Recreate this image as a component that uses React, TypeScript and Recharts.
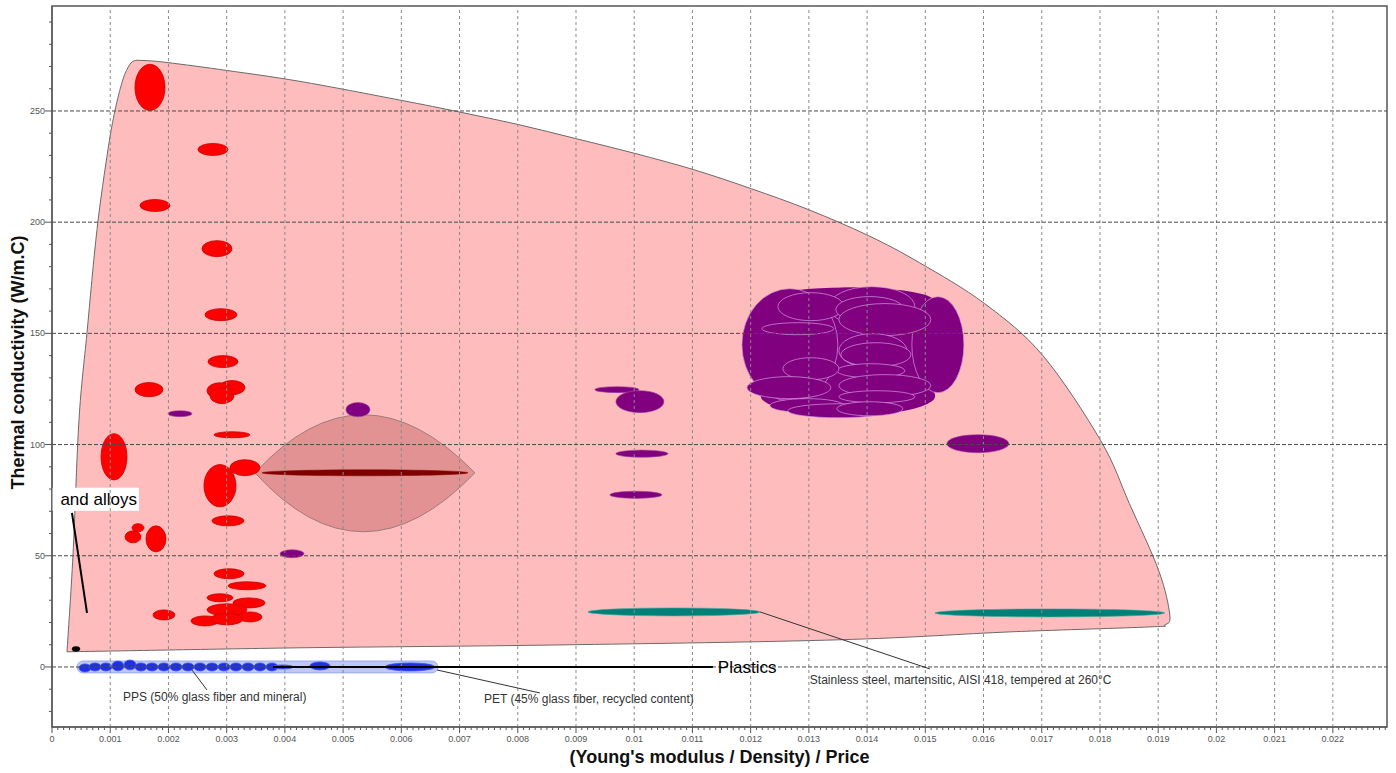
import React from 'react';
import { ScatterChart, XAxis, YAxis, ReferenceArea, ReferenceLine, ReferenceDot } from 'recharts';

// Axis extents and major ticks
const X_DOMAIN: [number, number] = [0, 0.02293];
const Y_DOMAIN: [number, number] = [-27, 297.2];
const xMajorTicks = [0, 0.001, 0.002, 0.003, 0.004, 0.005, 0.006, 0.007, 0.008, 0.009, 0.01, 0.011, 0.012, 0.013, 0.014, 0.015, 0.016, 0.017, 0.018, 0.019, 0.02, 0.021, 0.022];
const yMajorTicks = [0, 50, 100, 150, 200, 250];

// minor ticks: every 0.0001 on x, every 10 on y
const xMinorTicks = Array.from({ length: 230 }, (_, i) => +(i * 0.0001).toFixed(4));
const yMinorTicks = Array.from({ length: 32 }, (_, i) => -20 + i * 10);

// Metals and alloys envelope, [modulus/density/price, conductivity]
const metalsEnvelope: [number, number][] = [
  [0.000258, 6.8], [0.000361, 50.4], [0.000464, 111.2], [0.000601, 150.3],
  [0.000773, 196.7], [0.000962, 232.7], [0.001082, 250.2], [0.001202, 262.8],
  [0.001288, 268.7], [0.001391, 272.3], [0.001563, 272.7], [0.001975, 271.8],
  [0.003005, 268.2], [0.004259, 263.3], [0.005976, 254.9], [0.007006, 249.5],
  [0.008008, 243.9], [0.009011, 237.5], [0.010012, 230.9], [0.011013, 223.7],
  [0.012016, 215.0], [0.012988, 205.7], [0.014019, 194.0], [0.014906, 181.7],
  [0.016018, 163.4], [0.017019, 140.0], [0.018015, 101.7], [0.018506, 73.4],
  [0.019011, 43.2], [0.0192, 23.4], [0.019114, 18.9], [0.018856, 18.0],
  [0.016486, 15.8], [0.013515, 12.2], [0.008724, 9.9], [0.004259, 8.6],
];

// Bubbles: [x centre, y centre, x half-range, y half-range]
type Bubble = [number, number, number, number];

const aluminiumBubbles: Bubble[] = [
  [0.001683, 260.6, 0.000258, 10.4],
  [0.002765, 232.7, 0.000258, 2.7],
  [0.001769, 207.5, 0.000258, 2.7],
  [0.002834, 188.1, 0.000258, 3.6],
  [0.002902, 158.4, 0.000275, 2.7],
  [0.002937, 137.3, 0.000258, 2.7],
  [0.001666, 124.7, 0.00024, 3.2],
  [0.003091, 125.6, 0.000223, 3.2],
  [0.002885, 124.2, 0.000223, 3.6],
  [0.00292, 122.0, 0.000206, 3.6],
  [0.001065, 94.5, 0.000223, 10.4],
  [0.003091, 104.4, 0.000309, 1.35],
  [0.003314, 89.6, 0.000258, 3.6],
  [0.002885, 81.5, 0.000275, 9.5],
  [0.003023, 65.7, 0.000275, 2.25],
  [0.001391, 58.5, 0.000137, 2.7],
  [0.001477, 62.6, 0.000103, 1.8],
  [0.001786, 57.6, 0.000172, 5.85],
  [0.00304, 41.9, 0.000258, 2.25],
  [0.003349, 36.5, 0.000326, 1.8],
  [0.002885, 31.1, 0.000223, 1.8],
  [0.003383, 28.8, 0.000275, 2.25],
  [0.003005, 25.7, 0.000343, 2.7],
  [0.0034, 22.5, 0.000206, 2.25],
  [0.002627, 20.7, 0.00024, 2.25],
  [0.003005, 21.6, 0.000275, 2.7],
  [0.001923, 23.4, 0.000189, 2.25],
];

const copperBubbles: Bubble[] = [
  [0.005255, 115.7, 0.000206, 3.2],
  [0.002198, 113.9, 0.000206, 1.35],
  [0.004122, 50.9, 0.000206, 1.8],
  [0.009703, 124.7, 0.000378, 1.35],
  [0.010098, 119.3, 0.000412, 4.95],
  [0.010132, 95.9, 0.000447, 1.6],
  [0.010029, 77.4, 0.000447, 1.6],
  [0.015903, 100.4, 0.000532, 4.05],
];

// solid body of the copper group, drawn without outlines
const copperClusterBody: Bubble[] = [
  [0.013756, 147.2, 0.001803, 23.4],
  [0.013670, 165.0, 0.001460, 5.6],
  [0.013670, 122.0, 0.001500, 9.0],
];

const copperCluster: Bubble[] = [
  [0.012674, 144.9, 0.000824, 25.2],
  [0.015216, 144.9, 0.000447, 21.6],
  [0.014082, 162.0, 0.000738, 9.0],
  [0.013035, 162.0, 0.000567, 6.3],
  [0.012811, 152.1, 0.000618, 2.7],
  [0.014048, 160.7, 0.000584, 5.85],
  [0.014305, 156.2, 0.00079, 7.2],
  [0.014099, 142.2, 0.000584, 7.65],
  [0.014151, 140.4, 0.000601, 5.4],
  [0.014065, 133.2, 0.000584, 3.15],
  [0.014305, 126.5, 0.00079, 4.95],
  [0.013035, 134.1, 0.000481, 4.95],
  [0.012657, 125.6, 0.000721, 4.95],
  [0.014168, 121.5, 0.000653, 2.7],
  [0.012966, 117.5, 0.000635, 3.15],
  [0.013515, 115.2, 0.000876, 3.15],
  [0.014048, 116.1, 0.000567, 3.15],
];

const steelBubbles: Bubble[] = [
  [0.010682, 24.75, 0.001477, 1.8],
  [0.017139, 24.3, 0.001975, 1.8],
];

const magnesiumBubbles: Bubble[] = [[0.005375, 87.3, 0.001769, 1.35]];
const leadBubbles: Bubble[] = [[0.000412, 8.1, 0.0000687, 1.1]];

// Magnesium family envelope: left tip, right tip, peak x, top, bottom
const magnesiumLens = { x1: 0.003486, x2: 0.007264, peakX: 0.00532, tipY: 87.3, top: 113.4, bottom: 60.8 };

// Plastics envelope and bubbles
const plasticsEnvelope = { x1: 0.000429, x2: 0.006629, y1: -2.7, y2: 2.7 };
const plasticBubbles: Bubble[] = [
  [0.000567, -0.45, 0.000103, 1.8],
  [0.000738, 0, 0.000103, 1.8],
  [0.000927, 0, 0.000103, 1.8],
  [0.001133, 0.45, 0.000103, 2.2],
  [0.00134, 0.9, 0.000103, 2.2],
  [0.001528, 0, 0.000103, 1.8],
  [0.001717, 0, 0.000103, 1.8],
  [0.001923, 0, 0.000103, 1.8],
  [0.00213, 0, 0.000103, 1.8],
  [0.002336, 0, 0.000103, 1.8],
  [0.002542, 0, 0.000103, 1.8],
  [0.002748, 0, 0.000103, 1.8],
  [0.002954, 0, 0.000103, 1.8],
  [0.00316, 0, 0.000103, 1.8],
  [0.003366, 0, 0.000103, 1.8],
  [0.003572, 0, 0.000103, 1.8],
  [0.003778, 0, 0.000103, 1.8],
  [0.003967, 0, 0.000172, 0.9],
  [0.004602, 0.45, 0.000172, 1.8],
  [0.006148, 0, 0.000429, 1.8],
];

// Annotations: leader segments and label anchors
type Seg = [[number, number], [number, number]];
const heavyLeaders: Seg[] = [
  [[0.000343, 69.3], [0.000601, 24.3]],
  [[0.003795, 0], [0.011352, 0]],
];
const thinLeaders: Seg[] = [
  [[0.002404, -1.35], [0.002662, -10.35]],
  [[0.006612, -1.35], [0.00838, -11.7]],
  [[0.012159, 24.75], [0.015078, -0.9]],
];
const smallLabels: { x: number; y: number; text: string }[] = [
  { x: 0.001219, y: -13.5, text: 'PPS (50% glass fiber and mineral)' },
  { x: 0.007419, y: -14.4, text: 'PET (45% glass fiber, recycled content)' },
  { x: 0.013017, y: -5.85, text: 'Stainless steel, martensitic, AISI 418, tempered at 260°C' },
];
const plasticsLabel = { x: 0.011437, y: 0, text: 'Plastics' };
const metalsLabel = { x1: 0, x2: 0.001494, y1: 70.2, y2: 80.6, text: 'Metals and alloys' };

const FONT = '"Liberation Sans", Arial, sans-serif';

const bbox = (pts: [number, number][]) => ({
  x1: Math.min(...pts.map((p) => p[0])),
  x2: Math.max(...pts.map((p) => p[0])),
  y1: Math.min(...pts.map((p) => p[1])),
  y2: Math.max(...pts.map((p) => p[1])),
});

// maps a data point into the pixel rect that the library computed for a box
const mapper = (box: { x1: number; x2: number; y1: number; y2: number }, r: any) => (vx: number, vy: number) => [
  r.x + ((vx - box.x1) / (box.x2 - box.x1)) * r.width,
  r.y + ((box.y2 - vy) / (box.y2 - box.y1)) * r.height,
];

// Catmull-Rom through the outline, closed back to a sharp first vertex
const smoothClosedPath = (pts: number[][]) => {
  const p = [...pts, pts[0]];
  const at = (i: number) => p[Math.max(0, Math.min(p.length - 1, i))];
  let d = `M${p[0][0].toFixed(1)},${p[0][1].toFixed(1)}`;
  for (let i = 0; i < p.length - 1; i++) {
    const p0 = at(i - 1), p1 = at(i), p2 = at(i + 1), p3 = at(i + 2);
    const c1 = [p1[0] + (p2[0] - p0[0]) / 6, p1[1] + (p2[1] - p0[1]) / 6];
    const c2 = [p2[0] - (p3[0] - p1[0]) / 6, p2[1] - (p3[1] - p1[1]) / 6];
    d += ` C${c1[0].toFixed(1)},${c1[1].toFixed(1)} ${c2[0].toFixed(1)},${c2[1].toFixed(1)} ${p2[0].toFixed(1)},${p2[1].toFixed(1)}`;
  }
  return d + ' Z';
};

const ellipseShape = (fill: string, stroke: string, strokeWidth: number) => (r: any) => (
  <ellipse
    cx={r.x + r.width / 2}
    cy={r.y + r.height / 2}
    rx={r.width / 2}
    ry={r.height / 2}
    fill={fill}
    stroke={stroke}
    strokeWidth={strokeWidth}
  />
);

const renderBubbles = (list: Bubble[], key: string, fill: string, stroke: string, sw: number) =>
  list.map(([x, y, dx, dy], i) => (
    <ReferenceArea
      key={`${key}-${i}`}
      x1={x - dx}
      x2={x + dx}
      y1={y - dy}
      y2={y + dy}
      ifOverflow="visible"
      shape={ellipseShape(fill, stroke, sw)}
    />
  ));

const XTick = (props: any) => {
  const { x, y, payload } = props;
  const v = payload.value;
  const major = Math.abs(v * 1000 - Math.round(v * 1000)) < 1e-6;
  return (
    <g>
      <line x1={x} x2={x} y1={y} y2={y + (major ? 6 : 3)} stroke="#555" strokeWidth={1} />
      {major && (
        <text x={x} y={y + 15} textAnchor="middle" fontSize={9} fill="#555" fontFamily={FONT}>
          {String(Math.round(v * 1000) / 1000)}
        </text>
      )}
    </g>
  );
};

const YTick = (props: any) => {
  const { x, y, payload } = props;
  const v = payload.value;
  const major = v % 50 === 0;
  return (
    <g>
      <line x1={x - (major ? 7 : 3)} x2={x} y1={y} y2={y} stroke="#555" strokeWidth={1} />
      {major && (
        <text x={x - 7} y={y + 3} textAnchor="end" fontSize={9} fill="#555" fontFamily={FONT}>
          {v}
        </text>
      )}
    </g>
  );
};

export default function App() {
  const envBox = bbox(metalsEnvelope);
  const lensBox = { x1: magnesiumLens.x1, x2: magnesiumLens.x2, y1: magnesiumLens.bottom, y2: magnesiumLens.top };

  return (
    <div style={{ position: 'absolute', left: 0, top: 0, background: '#fff' }}>
      <ScatterChart width={1396} height={773} margin={{ top: 6, right: 9, left: 0, bottom: 0 }}>
        <XAxis
          type="number"
          dataKey="x"
          domain={X_DOMAIN}
          allowDataOverflow
          ticks={xMinorTicks}
          interval={0}
          tickSize={0}
          tickMargin={0}
          tick={<XTick />}
          height={46}
          stroke="#555"
          label={{
            content: (p: any) => (
              <text
                x={p.viewBox.x + p.viewBox.width / 2}
                y={p.viewBox.y + 36}
                textAnchor="middle"
                fontSize={18}
                fontWeight="bold"
                fill="#111"
                fontFamily={FONT}
              >
                (Young's modulus / Density) / Price
              </text>
            ),
          }}
        />
        <YAxis
          type="number"
          dataKey="y"
          domain={Y_DOMAIN}
          allowDataOverflow
          ticks={yMinorTicks}
          interval={0}
          tickSize={0}
          tickMargin={0}
          tick={<YTick />}
          width={52}
          stroke="#555"
          label={{
            content: (p: any) => {
              const cx = 24;
              const cy = p.viewBox.y + p.viewBox.height / 2 - 4;
              return (
                <text
                  x={cx}
                  y={cy}
                  transform={`rotate(-90 ${cx} ${cy})`}
                  textAnchor="middle"
                  fontSize={18}
                  fontWeight="bold"
                  fill="#111"
                  fontFamily={FONT}
                >
                  Thermal conductivity (W/m.C)
                </text>
              );
            },
          }}
        />

        {/* metals envelope */}
        <ReferenceArea
          x1={envBox.x1}
          x2={envBox.x2}
          y1={envBox.y1}
          y2={envBox.y2}
          ifOverflow="visible"
          shape={(r: any) => {
            const m = mapper(envBox, r);
            const d = smoothClosedPath(metalsEnvelope.map(([vx, vy]) => m(vx, vy)));
            return <path d={d} fill="#ffbcbc" stroke="#6a6a6a" strokeWidth={1} strokeLinejoin="round" />;
          }}
        />

        {/* grid */}
        {xMajorTicks.slice(1).map((v) => (
          <ReferenceLine key={`gx-${v}`} x={v} stroke="#8a8a8a" strokeWidth={1} strokeDasharray="3 3" ifOverflow="visible" />
        ))}
        {yMajorTicks.map((v) => (
          <ReferenceLine key={`gy-${v}`} y={v} stroke="#4a4a4a" strokeWidth={1} strokeDasharray="4 2" ifOverflow="visible" />
        ))}

        {/* plot frame */}
        <ReferenceArea
          x1={X_DOMAIN[0]}
          x2={X_DOMAIN[1]}
          y1={Y_DOMAIN[0]}
          y2={Y_DOMAIN[1]}
          ifOverflow="visible"
          shape={(r: any) => <rect x={r.x} y={r.y} width={r.width} height={r.height} fill="none" stroke="#555" strokeWidth={1.5} />}
        />

        {/* magnesium envelope */}
        <ReferenceArea
          x1={lensBox.x1}
          x2={lensBox.x2}
          y1={lensBox.y1}
          y2={lensBox.y2}
          ifOverflow="visible"
          shape={(r: any) => {
            const m = mapper(lensBox, r);
            const [lx, ly] = m(magnesiumLens.x1, magnesiumLens.tipY);
            const [rx, ry] = m(magnesiumLens.x2, magnesiumLens.tipY);
            const [tx, ty] = m(magnesiumLens.peakX, 2 * magnesiumLens.top - magnesiumLens.tipY);
            const [bx, by] = m(magnesiumLens.peakX, 2 * magnesiumLens.bottom - magnesiumLens.tipY);
            const d = `M${lx},${ly} Q${tx},${ty} ${rx},${ry} Q${bx},${by} ${lx},${ly} Z`;
            return <path d={d} fill="rgba(150,40,40,0.28)" stroke="#a07a7a" strokeWidth={1} />;
          }}
        />

        {/* plastics envelope */}
        <ReferenceArea
          x1={plasticsEnvelope.x1}
          x2={plasticsEnvelope.x2}
          y1={plasticsEnvelope.y1}
          y2={plasticsEnvelope.y2}
          ifOverflow="visible"
          shape={(r: any) => (
            <rect
              x={r.x}
              y={r.y}
              width={r.width}
              height={r.height}
              rx={r.height / 2}
              fill="rgba(110,130,235,0.45)"
              stroke="rgba(120,140,240,0.6)"
              strokeWidth={1}
            />
          )}
        />

        {renderBubbles(aluminiumBubbles, 'al', '#ff0000', '#c80000', 0.8)}
        {renderBubbles(copperBubbles, 'cu', '#800080', '#a040a0', 0.6)}
        {renderBubbles(copperClusterBody, 'cub', '#800080', 'none', 0)}
        {renderBubbles(copperCluster, 'cuc', '#800080', '#d49ae0', 0.7)}
        {renderBubbles(steelBubbles, 'st', '#008078', '#40a8a0', 0.6)}
        {renderBubbles(magnesiumBubbles, 'mg', '#800000', '#800000', 0.5)}
        {renderBubbles(leadBubbles, 'pb', '#000000', '#000000', 0.5)}
        {renderBubbles(plasticBubbles, 'pl', '#2030e0', '#3a55ff', 0.8)}

        {/* leaders */}
        {heavyLeaders.map(([a, b], i) => (
          <ReferenceLine
            key={`hl-${i}`}
            segment={[{ x: a[0], y: a[1] }, { x: b[0], y: b[1] }]}
            stroke="#000"
            strokeWidth={2}
            ifOverflow="visible"
          />
        ))}
        {thinLeaders.map(([a, b], i) => (
          <ReferenceLine
            key={`tl-${i}`}
            segment={[{ x: a[0], y: a[1] }, { x: b[0], y: b[1] }]}
            stroke="#333"
            strokeWidth={1}
            ifOverflow="visible"
          />
        ))}

        {/* labels */}
        {smallLabels.map((l, i) => (
          <ReferenceDot
            key={`sl-${i}`}
            x={l.x}
            y={l.y}
            r={0}
            ifOverflow="visible"
            shape={(p: any) => (
              <text x={p.cx} y={p.cy} dy="0.35em" fontSize={12} fill="#333" fontFamily={FONT}>
                {l.text}
              </text>
            )}
          />
        ))}
        <ReferenceDot
          x={plasticsLabel.x}
          y={plasticsLabel.y}
          r={0}
          ifOverflow="visible"
          shape={(p: any) => (
            <text x={p.cx} y={p.cy} dy="0.35em" fontSize={17} fill="#000" fontFamily={FONT}>
              {plasticsLabel.text}
            </text>
          )}
        />
        <ReferenceArea
          x1={metalsLabel.x1}
          x2={metalsLabel.x2}
          y1={metalsLabel.y1}
          y2={metalsLabel.y2}
          ifOverflow="visible"
          shape={(r: any) => (
            <g>
              <defs>
                <clipPath id="metals-label-clip">
                  <rect x={r.x + 4} y={r.y} width={r.width - 4} height={r.height} />
                </clipPath>
              </defs>
              <rect x={r.x} y={r.y} width={r.width} height={r.height} fill="#fff" />
              <text
                x={r.x + r.width - 2}
                y={r.y + r.height / 2}
                dy="0.35em"
                textAnchor="end"
                fontSize={17}
                fill="#000"
                fontFamily={FONT}
                clipPath="url(#metals-label-clip)"
              >
                {metalsLabel.text}
              </text>
            </g>
          )}
        />
      </ScatterChart>
    </div>
  );
}
